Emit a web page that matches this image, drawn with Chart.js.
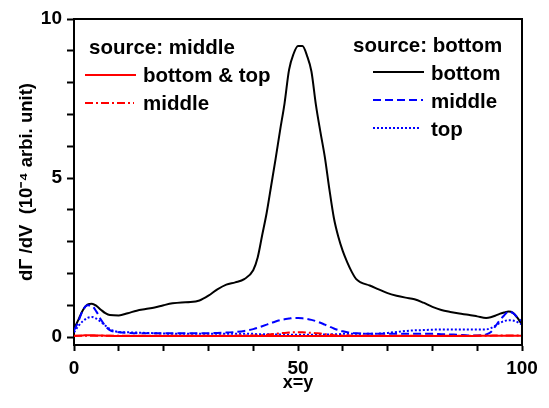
<!DOCTYPE html>
<html>
<head>
<meta charset="utf-8">
<script src="https://cdn.jsdelivr.net/npm/chart.js@4.4.1/dist/chart.umd.min.js"></script>
<style>
  body { margin: 0; background: #fff; }
  canvas { display: block; }
</style>
</head>
<body>
<canvas id="chart" width="549" height="408"></canvas>
<script>
// x positions along x=y
const xs = [0,1,2,3,4,5,6,7,8,10,12,14,16,18,20,22,24,26,28,30,32,34,36,38,40,41,42,43,44,45,46,47,48,49,50,51,52,53,54,55,56,57,58,59,60,61,62,63,64,66,68,70,72,74,76,78,80,82,84,86,88,90,92,93,94,95,96,97,98,99,100];

// source: bottom
const bottomBottom = [0.25,0.55,0.85,1.02,1.05,0.98,0.86,0.75,0.69,0.68,0.75,0.83,0.88,0.93,1.0,1.06,1.09,1.1,1.15,1.3,1.5,1.65,1.72,1.82,2.1,2.5,3.2,3.9,4.75,5.6,6.5,7.35,8.4,8.9,9.15,9.15,8.85,8.35,7.3,6.45,5.65,4.65,3.75,3.15,2.7,2.35,2.05,1.82,1.72,1.62,1.5,1.38,1.3,1.24,1.19,1.08,0.95,0.85,0.79,0.74,0.7,0.65,0.6,0.62,0.67,0.73,0.77,0.8,0.76,0.6,0.39];
const bottomMiddle = [0.2,0.5,0.85,1.0,0.98,0.8,0.55,0.35,0.22,0.15,0.13,0.12,0.12,0.12,0.12,0.12,0.12,0.12,0.12,0.12,0.13,0.14,0.16,0.19,0.25,0.29,0.34,0.39,0.44,0.49,0.53,0.56,0.58,0.6,0.6,0.59,0.57,0.54,0.5,0.45,0.39,0.33,0.27,0.22,0.18,0.15,0.13,0.12,0.11,0.1,0.1,0.1,0.1,0.1,0.1,0.1,0.1,0.09,0.08,0.07,0.05,0.05,0.08,0.15,0.33,0.52,0.68,0.8,0.75,0.62,0.5];
const bottomTop = [0.15,0.35,0.5,0.6,0.63,0.58,0.48,0.36,0.25,0.16,0.15,0.14,0.13,0.12,0.11,0.1,0.1,0.1,0.1,0.1,0.1,0.1,0.1,0.1,0.1,0.09,0.09,0.09,0.08,0.08,0.08,0.07,0.07,0.07,0.07,0.07,0.07,0.07,0.08,0.08,0.08,0.08,0.09,0.09,0.1,0.1,0.1,0.1,0.1,0.1,0.11,0.13,0.16,0.19,0.21,0.22,0.23,0.24,0.24,0.24,0.24,0.24,0.24,0.28,0.35,0.44,0.5,0.53,0.52,0.47,0.39];

// source: middle
const middleBottomTop = [0.03,0.04,0.05,0.06,0.06,0.05,0.05,0.04,0.04,0.03,0.03,0.03,0.03,0.03,0.03,0.03,0.03,0.03,0.03,0.03,0.03,0.03,0.03,0.03,0.03,0.03,0.03,0.03,0.03,0.03,0.03,0.03,0.03,0.03,0.03,0.03,0.03,0.03,0.03,0.03,0.03,0.03,0.03,0.03,0.03,0.03,0.03,0.03,0.03,0.03,0.03,0.03,0.03,0.03,0.03,0.03,0.03,0.03,0.03,0.03,0.03,0.04,0.04,0.04,0.04,0.04,0.04,0.04,0.04,0.04,0.04];
const middleMiddle = [0.04,0.04,0.04,0.04,0.04,0.04,0.04,0.04,0.04,0.04,0.04,0.04,0.04,0.04,0.04,0.04,0.04,0.04,0.04,0.04,0.04,0.04,0.04,0.05,0.05,0.05,0.06,0.07,0.09,0.1,0.12,0.13,0.14,0.15,0.15,0.15,0.14,0.13,0.12,0.11,0.09,0.08,0.06,0.05,0.05,0.05,0.04,0.04,0.04,0.04,0.04,0.04,0.04,0.04,0.04,0.04,0.04,0.04,0.04,0.04,0.04,0.04,0.04,0.04,0.05,0.05,0.05,0.05,0.05,0.05,0.05];

const yTicks = [0,1,2,3,4,5,6,7,8,9,10];
const yLabels = [0,5,10];
const xTicks = [0,10,20,30,40,50,60,70,80,90,100];
const xLabels = [0,50,100];

const legendLeft = { title: 'source: middle', labels: ['bottom & top', 'middle'] };
const legendRight = { title: 'source: bottom', labels: ['bottom', 'middle', 'top'] };

const RED = '#ff0000', BLUE = '#0000ff', BLACK = '#000000';
const DASH = [8, 4], DOT = [2, 2], DASHDOT = [8, 3, 2, 3];

function pts(arr) {
  return xs.map((x, i) => ({ x: x, y: arr[i] }));
}

function line(label, arr, color, dash) {
  return {
    label: label,
    data: pts(arr),
    borderColor: color,
    borderWidth: 2,
    borderDash: dash,
    pointRadius: 0,
    fill: false,
    cubicInterpolationMode: 'monotone'
  };
}

const datasets = [
  line(legendLeft.labels[0], middleBottomTop, RED, []),
  line(legendLeft.labels[1], middleMiddle, RED, DASHDOT),
  line(legendRight.labels[1], bottomMiddle, BLUE, DASH),
  line(legendRight.labels[2], bottomTop, BLUE, DOT),
  line(legendRight.labels[0], bottomBottom, BLACK, [])
];

const boldFont = size => ({ family: 'Liberation Sans, Arial, sans-serif', size: size, weight: 'bold' });

// frame on top/right + the two text legends
const framePlugin = {
  id: 'frame',
  afterDraw(chart) {
    const ctx = chart.ctx;
    const a = chart.chartArea;
    ctx.save();
    ctx.strokeStyle = BLACK;
    ctx.lineWidth = 2;
    ctx.beginPath();
    ctx.moveTo(a.left, a.top);
    ctx.lineTo(a.right, a.top);
    ctx.lineTo(a.right, a.bottom);
    ctx.stroke();

    ctx.font = 'bold 20.5px "Liberation Sans", Arial, sans-serif';
    ctx.fillStyle = BLACK;
    ctx.textBaseline = 'alphabetic';

    function sample(x1, x2, y, color, dash) {
      ctx.save();
      ctx.strokeStyle = color;
      ctx.lineWidth = 2;
      ctx.setLineDash(dash);
      ctx.beginPath();
      ctx.moveTo(x1, y);
      ctx.lineTo(x2, y);
      ctx.stroke();
      ctx.restore();
    }

    // left block
    ctx.fillText(legendLeft.title, a.left + 15, a.top + 35);
    sample(a.left + 11, a.left + 62, a.top + 56, RED, []);
    ctx.fillText(legendLeft.labels[0], a.left + 69, a.top + 63);
    sample(a.left + 11, a.left + 60, a.top + 84, RED, DASHDOT);
    ctx.fillText(legendLeft.labels[1], a.left + 69, a.top + 91);

    // right block
    ctx.fillText(legendRight.title, a.left + 279, a.top + 33);
    sample(a.left + 299, a.left + 350, a.top + 53, BLACK, []);
    ctx.fillText(legendRight.labels[0], a.left + 357, a.top + 61);
    sample(a.left + 299, a.left + 349, a.top + 81, BLUE, DASH);
    ctx.fillText(legendRight.labels[1], a.left + 357, a.top + 89);
    sample(a.left + 299, a.left + 346, a.top + 109, BLUE, DOT);
    ctx.fillText(legendRight.labels[2], a.left + 357, a.top + 117);
    ctx.restore();
  }
};

const ctx = document.getElementById('chart').getContext('2d');
const chart = new Chart(ctx, {
  type: 'line',
  data: { datasets: datasets },
  options: {
    responsive: false,
    animation: false,
    devicePixelRatio: 1,
    layout: { padding: { top: 19, right: 27, left: 0, bottom: 0 } },
    plugins: {
      legend: { display: false },
      tooltip: { enabled: false }
    },
    scales: {
      x: {
        type: 'linear',
        min: 0,
        max: 100,
        afterFit: s => { s.height = 63; },
        afterBuildTicks: s => { s.ticks = xTicks.map(v => ({ value: v })); },
        ticks: {
          color: BLACK,
          font: boldFont(19),
          padding: 6,
          maxRotation: 0,
          autoSkip: false,
          callback: v => xLabels.includes(v) ? String(v) : ''
        },
        grid: { drawOnChartArea: false, drawTicks: true, tickLength: 6, tickColor: BLACK, tickWidth: 2 },
        border: { color: BLACK, width: 2 },
        title: { display: true, text: 'x=y', color: BLACK, font: boldFont(18), padding: { top: 0, bottom: 14 } }
      },
      y: {
        type: 'linear',
        min: -0.25,
        max: 10,
        afterFit: s => { s.width = 74; },
        afterBuildTicks: s => { s.ticks = yTicks.map(v => ({ value: v })); },
        ticks: {
          color: BLACK,
          font: boldFont(19),
          padding: 5,
          autoSkip: false,
          callback: v => yLabels.includes(v) ? String(v) : ''
        },
        grid: { drawOnChartArea: false, drawTicks: true, tickLength: 7, tickColor: BLACK, tickWidth: 2 },
        border: { color: BLACK, width: 2 },
        title: { display: true, text: 'dΓ /dV  (10⁻⁴ arbi. unit)', color: BLACK, font: boldFont(18.5), padding: { top: 16, bottom: 0 } }
      }
    }
  },
  plugins: [framePlugin]
});
</script>
</body>
</html>
